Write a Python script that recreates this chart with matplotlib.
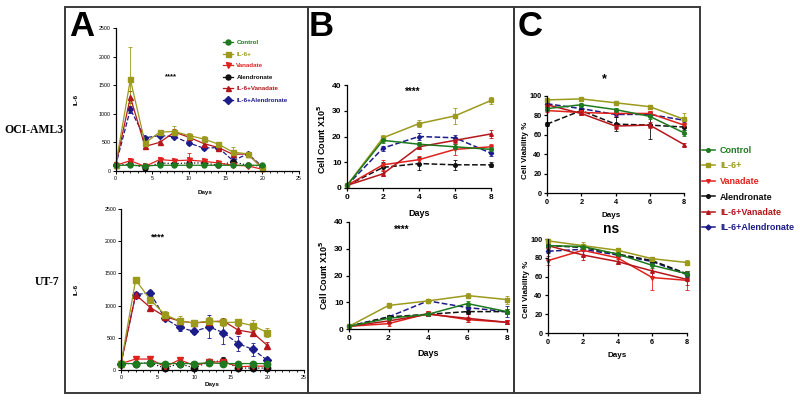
import matplotlib
matplotlib.use("Agg")
import matplotlib.pyplot as plt
from matplotlib.patches import Rectangle
from matplotlib.lines import Line2D
from matplotlib.ticker import MultipleLocator

W, H = 800, 401

series = ["Control", "IL-6+", "Vanadate", "Alendronate", "IL-6+Vanadate", "IL-6+Alendronate"]
colors = ["#1e7a1e", "#9c9a1c", "#e0221e", "#111111", "#b4161c", "#1c1c8a"]
markers = ["o", "s", "v", "o", "^", "D"]
styles = ["-", "-", "-", "--", "-", "--"]

days_a = [0, 2, 4, 6, 8, 10, 12, 14, 16, 18, 20]
days_bc = [0, 2, 4, 6, 8]

# Panel A, OCI-AML3: IL-6
a1_vals = {
    "Control":          [100, 100, 90, 100, 100, 100, 100, 100, 100, 100, 100],
    "IL-6+":            [100, 1600, 490, 680, 690, 620, 560, 470, 330, 300, 50],
    "Vanadate":         [100, 180, 80, 200, 180, 190, 170, 140, 100, 90, 30],
    "Alendronate":      [100, 120, 60, 140, 130, 140, 140, 100, 160, 100, 90],
    "IL-6+Vanadate":    [100, 1290, 430, 500, 680, 590, 480, 410, 290, 300, 50],
    "IL-6+Alendronate": [100, 1080, 580, 620, 600, 490, 400, 410, 180, 300, 80],
}
a1_err = {
    "Control":          [0, 10, 10, 10, 10, 10, 10, 10, 10, 10, 10],
    "IL-6+":            [0, 570, 40, 40, 90, 40, 50, 40, 90, 20, 20],
    "Vanadate":         [0, 40, 20, 40, 30, 120, 30, 20, 20, 10, 10],
    "Alendronate":      [0, 20, 10, 20, 20, 20, 20, 20, 20, 10, 10],
    "IL-6+Vanadate":    [0, 100, 30, 30, 50, 30, 30, 30, 40, 20, 10],
    "IL-6+Alendronate": [0, 60, 30, 30, 30, 30, 30, 30, 40, 20, 10],
}

# Panel A, UT-7: IL-6
a2_vals = {
    "Control":          [100, 100, 110, 100, 100, 100, 110, 100, 100, 100, 100],
    "IL-6+":            [100, 1400, 1090, 860, 760, 730, 760, 740, 740, 690, 580],
    "Vanadate":         [100, 170, 170, 50, 160, 70, 120, 130, 50, 60, 60],
    "Alendronate":      [100, 100, 110, 30, 100, 30, 130, 140, 30, 30, 30],
    "IL-6+Vanadate":    [100, 1170, 970, 830, 760, 730, 750, 760, 620, 580, 380],
    "IL-6+Alendronate": [100, 1170, 1200, 800, 660, 600, 670, 580, 410, 320, 150],
}
a2_err = {
    "Control":          [0, 10, 10, 10, 10, 10, 10, 10, 10, 10, 10],
    "IL-6+":            [0, 40, 40, 50, 80, 40, 60, 60, 50, 90, 70],
    "Vanadate":         [0, 40, 40, 20, 30, 20, 20, 20, 20, 20, 20],
    "Alendronate":      [0, 20, 20, 20, 20, 20, 30, 60, 20, 20, 20],
    "IL-6+Vanadate":    [0, 40, 40, 30, 40, 30, 50, 50, 60, 40, 50],
    "IL-6+Alendronate": [0, 40, 40, 30, 50, 40, 180, 180, 120, 100, 50],
}

# Panel B: cell count x10^5
b1_vals = {
    "Control":          [1, 18.5, 17, 16, 15],
    "IL-6+":            [1, 19.5, 25, 28, 34],
    "Vanadate":         [1, 9, 11, 15, 16],
    "Alendronate":      [1, 8, 9.5, 9, 9],
    "IL-6+Vanadate":    [1, 5.5, 16, 18.5, 21],
    "IL-6+Alendronate": [1, 15.5, 20, 19.5, 13.5],
}
b1_err = {
    "Control":          [0, 1, 1, 1, 1],
    "IL-6+":            [0, 1, 1.5, 3, 1.5],
    "Vanadate":         [0, 2, 1.5, 2, 1],
    "Alendronate":      [0, 2, 2.5, 2, 1],
    "IL-6+Vanadate":    [0, 1, 1, 1, 1.5],
    "IL-6+Alendronate": [0, 1, 1.5, 1, 1],
}
b2_vals = {
    "Control":          [1, 4, 5.5, 9.5, 6.5],
    "IL-6+":            [1, 8.8, 10.5, 12.5, 11],
    "Vanadate":         [1, 2, 5.8, 3.5, 2.5],
    "Alendronate":      [1, 4.5, 5.5, 6.5, 6.5],
    "IL-6+Vanadate":    [1, 3, 5.5, 4, 2.5],
    "IL-6+Alendronate": [1, 4.5, 10.5, 8, 6.5],
}
b2_err = {
    "Control":          [0, 0.8, 0.8, 1, 1],
    "IL-6+":            [0, 1, 0.8, 1, 1.5],
    "Vanadate":         [0, 0.8, 0.8, 1, 0.8],
    "Alendronate":      [0, 0.8, 0.8, 1, 1],
    "IL-6+Vanadate":    [0, 0.8, 0.8, 1.5, 0.8],
    "IL-6+Alendronate": [0, 0.8, 0.8, 1, 2],
}

# Panel C: cell viability %
c1_vals = {
    "Control":          [87, 91, 86, 79, 62],
    "IL-6+":            [96, 97, 93, 89, 76],
    "Vanadate":         [85, 83, 82, 82, 70],
    "Alendronate":      [71, 85, 71, 70, 68],
    "IL-6+Vanadate":    [91, 82, 69, 70, 50],
    "IL-6+Alendronate": [92, 87, 81, 81, 75],
}
c1_err = {
    "Control":          [2, 2, 2, 3, 3],
    "IL-6+":            [1, 1, 2, 2, 6],
    "Vanadate":         [2, 2, 3, 3, 3],
    "Alendronate":      [2, 3, 7, 14, 3],
    "IL-6+Vanadate":    [2, 2, 3, 3, 2],
    "IL-6+Alendronate": [2, 3, 3, 3, 3],
}
c2_vals = {
    "Control":          [93, 92, 84, 72, 63],
    "IL-6+":            [98, 93, 88, 79, 75],
    "Vanadate":         [77, 88, 80, 59, 56],
    "Alendronate":      [93, 91, 84, 77, 63],
    "IL-6+Vanadate":    [93, 83, 76, 66, 57],
    "IL-6+Alendronate": [87, 89, 83, 76, 62],
}
c2_err = {
    "Control":          [2, 2, 2, 3, 3],
    "IL-6+":            [1, 4, 2, 2, 3],
    "Vanadate":         [5, 6, 3, 13, 10],
    "Alendronate":      [2, 2, 2, 3, 3],
    "IL-6+Vanadate":    [2, 5, 3, 6, 6],
    "IL-6+Alendronate": [2, 2, 2, 3, 3],
}

plt.rcParams["font.family"] = ["Liberation Sans", "DejaVu Sans"]

fig = plt.figure(figsize=(W / 100, H / 100), dpi=100)
fig.patch.set_facecolor("white")


def fx(x):
    return x / W


def fy(y):
    return 1 - y / H


def add_ax(x0, x1, ytop, ybot):
    return fig.add_axes([fx(x0), fy(ybot), fx(x1 - x0), (ybot - ytop) / H])


draw_order = ["IL-6+Alendronate", "Alendronate", "Vanadate", "IL-6+Vanadate", "IL-6+", "Control"]


def plot_panel(ax, days, vals, errs, ms, lw, a_style=False):
    handles = {}
    for name in draw_order:
        i = series.index(name)
        ls = styles[i]
        if a_style and name == "Alendronate":
            ls = ":"
        ax.errorbar(days, vals[name], yerr=errs[name], color=colors[i], marker=markers[i],
                    ms=ms if markers[i] != "D" else ms * 0.85, ls=ls, lw=lw,
                    elinewidth=0.6, capsize=1.5, capthick=0.6, clip_on=False,
                    ecolor=colors[i])
        handles[name] = Line2D([], [], color=colors[i], marker=markers[i], ls="-", lw=lw,
                               ms=ms)
    for s in ["top", "right"]:
        ax.spines[s].set_visible(False)
    for s in ["left", "bottom"]:
        ax.spines[s].set_linewidth(0.9)
    ax.set_facecolor("none")
    return handles


# ---------- Panel A ----------
axA1 = add_ax(115.7, 299, 28, 171)
hA = plot_panel(axA1, days_a, a1_vals, a1_err, 3.6, 0.9, a_style=True)
axA2 = add_ax(121, 304, 209, 370)
plot_panel(axA2, days_a, a2_vals, a2_err, 4.6, 0.9, a_style=True)
for ax, (yx, yy, xx, xy) in zip([axA1, axA2], [(-0.20, 0.5, 0.49, -0.13), (-0.23, 0.5, 0.5, -0.075)]):
    ax.set_xlim(0, 25)
    ax.set_ylim(0, 2500)
    ax.xaxis.set_major_locator(MultipleLocator(5))
    ax.xaxis.set_minor_locator(MultipleLocator(1))
    ax.yaxis.set_major_locator(MultipleLocator(500))
    ax.tick_params(labelsize=3.8, length=2, width=0.7, pad=1.5)
    ax.tick_params(which="minor", length=1.2, width=0.6)
    ax.set_xlabel("Days", fontsize=4.5, fontweight="bold")
    ax.set_ylabel("IL-6", fontsize=4.5, fontweight="bold")
    ax.yaxis.set_label_coords(yx, yy)
    ax.xaxis.set_label_coords(xx, xy)

axA1.text(fx(171), fy(77), "****", transform=fig.transFigure, fontsize=5.5, fontweight="bold",
          ha="center", va="center")
axA2.text(fx(158), fy(237), "****", transform=fig.transFigure, fontsize=6.5, fontweight="bold",
          ha="center", va="center")

axA1.legend([hA[n] for n in series], series, loc="upper left",
            bbox_to_anchor=(fx(223), fy(40)), bbox_transform=fig.transFigure,
            frameon=False, labelspacing=0.98, handlelength=1.6,
            handletextpad=0.55, labelcolor="linecolor", borderaxespad=0, borderpad=0,
            prop={"weight": "bold", "size": 4.5})

# ---------- Panel B ----------
axB1 = add_ax(347, 491, 85, 188)
plot_panel(axB1, days_bc, b1_vals, b1_err, 2.6, 1.1)
axB2 = add_ax(349, 507, 222, 329)
plot_panel(axB2, days_bc, b2_vals, b2_err, 2.6, 1.1)
for ax, (yx, yy, xx, xy) in zip([axB1, axB2], [(-0.13, 0.47, 0.5, -0.2), (-0.12, 0.5, 0.5, -0.19)]):
    ax.set_xlim(0, 8)
    ax.set_ylim(0, 40)
    ax.set_xticks(days_bc)
    ax.set_yticks([0, 10, 20, 30, 40])
    ax.tick_params(labelsize=6, length=2.5, width=0.9, pad=1.5)
    for lab in ax.get_xticklabels() + ax.get_yticklabels():
        lab.set_fontweight("bold")
    ax.set_xlabel("Days", fontsize=6.5, fontweight="bold")
    ax.set_ylabel("Cell Count X10$^\\mathbf{5}$", fontsize=6.5, fontweight="bold")
    ax.yaxis.set_label_coords(yx, yy)
    ax.xaxis.set_label_coords(xx, xy)
axB1.text(fx(413), fy(92), "****", transform=fig.transFigure, fontsize=7, fontweight="bold",
          ha="center", va="center")
axB2.text(fx(402), fy(230), "****", transform=fig.transFigure, fontsize=7, fontweight="bold",
          ha="center", va="center")

# ---------- Panel C ----------
axC1 = add_ax(547, 684, 96, 193)
hC = plot_panel(axC1, days_bc, c1_vals, c1_err, 2.6, 1.1)
axC2 = add_ax(548, 687, 239, 333)
plot_panel(axC2, days_bc, c2_vals, c2_err, 2.6, 1.1)
for ax, (yx, yy, xx, xy) in zip([axC1, axC2], [(-0.13, 0.44, 0.47, -0.2), (-0.13, 0.46, 0.5, -0.2)]):
    ax.set_xlim(0, 8)
    ax.set_ylim(0, 100)
    ax.set_xticks(days_bc)
    ax.set_yticks([0, 20, 40, 60, 80, 100])
    ax.tick_params(labelsize=5.3, length=2.5, width=0.9, pad=1.5)
    for lab in ax.get_xticklabels() + ax.get_yticklabels():
        lab.set_fontweight("bold")
    ax.set_xlabel("Days", fontsize=5.8, fontweight="bold")
    ax.set_ylabel("Cell Viability %", fontsize=5.8, fontweight="bold")
    ax.yaxis.set_label_coords(yx, yy)
    ax.xaxis.set_label_coords(xx, xy)
axC1.text(fx(604), fy(79), "*", transform=fig.transFigure, fontsize=9, fontweight="bold",
          ha="center", va="center")
axC2.text(fx(611), fy(229), "ns", transform=fig.transFigure, fontsize=10, fontweight="bold",
          ha="center", va="center")

fig.legend([hC[n] for n in series], series, loc="upper left",
           bbox_to_anchor=(fx(702), fy(146)), frameon=False, labelspacing=0.72,
           handlelength=1.4, handletextpad=0.6, labelcolor="linecolor", borderaxespad=0,
           borderpad=0, prop={"weight": "bold", "size": 6.5})

# ---------- frames, letters, row labels ----------
frame_kw = dict(transform=fig.transFigure, fill=False, lw=1.4, ec="#3a3a3a")
fig.patches.append(Rectangle((fx(65), fy(393)), fx(308 - 65), (393 - 7) / H, **frame_kw))
fig.patches.append(Rectangle((fx(308), fy(393)), fx(514 - 308), (393 - 7) / H, **frame_kw))
fig.patches.append(Rectangle((fx(514), fy(393)), fx(700 - 514), (393 - 7) / H, **frame_kw))

for letter, x in [("A", 69), ("B", 309), ("C", 518)]:
    fig.text(fx(x), fy(26), letter, fontsize=25, fontweight="bold", ha="left", va="center")

fig.text(fx(4), fy(130), "OCI-AML3", fontsize=8.5, fontweight="bold", ha="left", va="center",
         family=["Liberation Serif", "DejaVu Serif"])
fig.text(fx(35), fy(282), "UT-7", fontsize=8.5, fontweight="bold", ha="left", va="center",
         family=["Liberation Serif", "DejaVu Serif"])

fig.savefig("out.png", dpi=100, facecolor="white")
